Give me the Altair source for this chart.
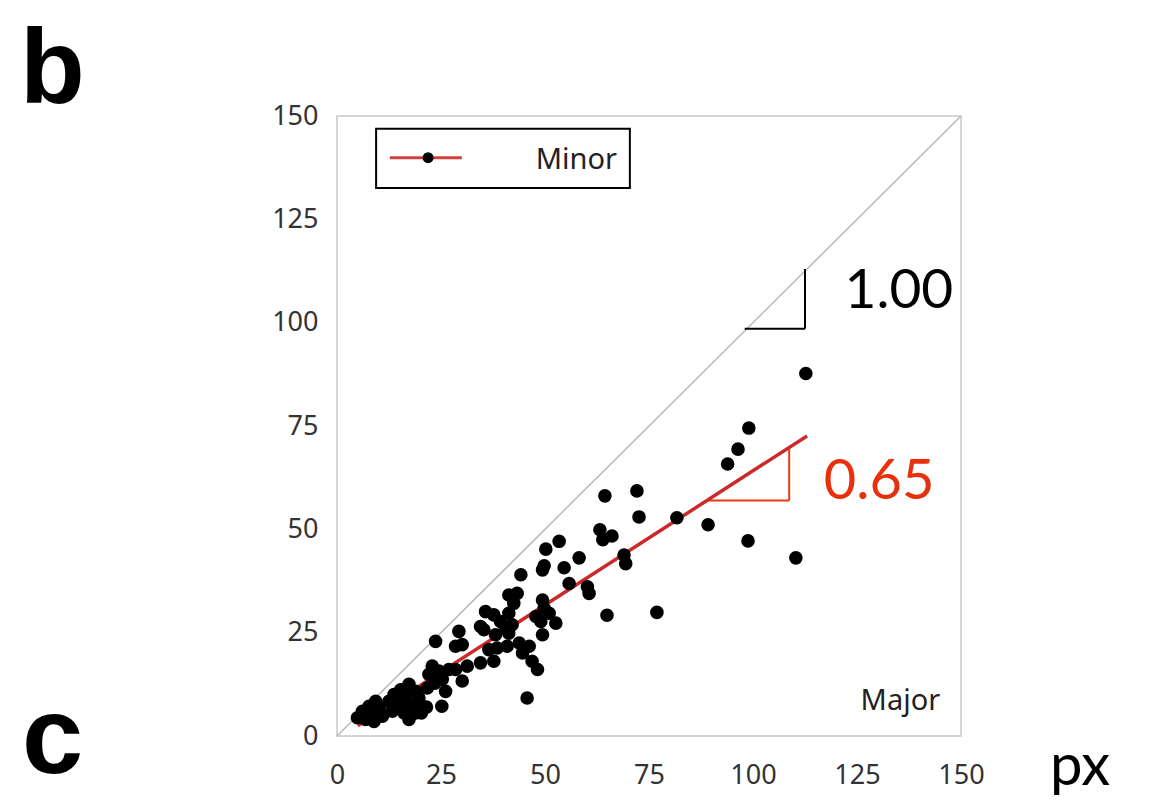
import altair as alt
import pandas as pd

# ---- data ----
major = [112.7, 99.0, 96.4, 93.9, 98.8, 110.3, 89.2, 81.7, 76.9, 72.1, 72.6, 69.0, 69.4,
         64.4, 63.2, 66.1, 63.9, 64.9, 60.2, 60.6, 58.2, 53.4, 50.2, 54.6, 49.8, 49.4,
         55.8, 44.2, 41.3, 43.3, 42.5, 49.4, 49.8, 51.0, 52.6, 49.0, 47.8, 49.4, 35.7,
         37.7, 41.3, 39.3, 40.5, 42.1, 41.3, 34.5, 35.3, 29.3, 23.7, 28.5, 30.1, 38.1,
         36.5, 38.5, 40.9, 43.8, 46.2, 44.6, 46.9, 48.2, 34.5, 37.7, 31.3, 28.5, 26.9,
         22.9, 24.5, 22.1, 25.3, 30.1, 45.7, 25.2, 23.5, 26.1,
         17.3, 15.3, 18.9, 13.7, 16.5, 19.7, 12.5, 14.9, 17.7, 20.5, 13.3, 16.1, 18.9,
         17.3, 21.7, 21.5, 20.3,
         9.3, 7.7, 10.1, 6.1, 8.5, 4.9, 6.9, 8.9, 10.9]
minor = [87.7, 74.5, 69.4, 65.8, 47.2, 43.1, 51.1, 52.8, 29.9, 59.3, 53.0, 43.8, 41.7,
         58.1, 49.9, 48.4, 47.5, 29.2, 36.1, 34.5, 43.1, 47.1, 45.2, 40.7, 41.2, 40.2,
         36.9, 39.0, 34.1, 34.5, 32.1, 32.9, 30.9, 29.7, 27.3, 27.7, 28.9, 24.5, 30.1,
         29.3, 29.7, 27.7, 26.1, 26.9, 24.9, 26.5, 25.7, 25.3, 22.9, 21.7, 22.1, 24.5,
         20.9, 21.3, 21.7, 22.5, 21.7, 20.1, 18.1, 16.1, 17.7, 18.1, 16.9, 16.1, 16.1,
         16.9, 15.7, 14.9, 13.7, 13.3, 9.2, 7.2, 12.8, 10.8,
         12.5, 11.2, 10.8, 10.0, 9.6, 9.2, 8.4, 7.6, 7.6, 7.2, 6.0, 5.6, 5.6,
         4.0, 11.6, 7.0, 5.6,
         8.4, 7.2, 6.8, 6.0, 5.6, 4.4, 4.0, 3.5, 4.8]

fit_x = [5, 113]
fit_y = [2.5, 72.6]
diag_xy = [0, 150]
tick_values = [0, 25, 50, 75, 100, 125, 150]

red_tri_h = [88.7, 108.7, 57.0]      # x1, x2, y
red_tri_v = [108.7, 57.0, 70.0]      # x, y1, y2
blk_tri_h = [98.0, 112.5, 98.5]
blk_tri_v = [112.5, 98.5, 113.0]

legend_box = [9.4, 70.4, 132.6, 146.9]
legend_line = [12.7, 30.0, 139.9]
legend_dot = [21.9, 139.9]

texts = pd.DataFrame({
    "x": [67.3, 122.0, 117.0, 145.0, 171.4, -76.2, -75.7],
    "y": [137.2, 103.5, 57.3, 6.3, -11.9, 153.2, -9.0],
    "t": ["Minor", "1.00", "0.65", "Major", "px", "b", "c"],
})

pts = pd.DataFrame({"x": major, "y": minor})

xs = alt.Scale(domain=[0, 150], nice=False, zero=False)
ys = alt.Scale(domain=[0, 150], nice=False, zero=False)

x_axis = alt.Axis(values=tick_values, ticks=False, domain=False, grid=False, title=None,
                  labelFont="Noto Sans", labelFontSize=27, labelColor="#333333",
                  labelPadding=26, labelFlush=False, labelOverlap=False)
y_axis = alt.Axis(values=tick_values, ticks=False, domain=False, grid=False, title=None,
                  labelFont="Noto Sans", labelFontSize=27, labelColor="#333333",
                  labelPadding=19, labelFlush=False, labelOverlap=False)

X = lambda f: alt.X(f, type="quantitative", scale=xs, axis=x_axis)
Y = lambda f: alt.Y(f, type="quantitative", scale=ys, axis=y_axis)

diag = alt.Chart(pd.DataFrame({"x": diag_xy, "y": diag_xy})).mark_line(
    color="#b8b8b8", strokeWidth=1.5).encode(x=X("x"), y=Y("y"))

fit = alt.Chart(pd.DataFrame({"x": fit_x, "y": fit_y})).mark_line(
    color="#cc2a2a", strokeWidth=3.5).encode(x=X("x"), y=Y("y"))

points = alt.Chart(pts).mark_circle(size=185, color="black", opacity=1).encode(
    x=X("x"), y=Y("y"))

def hseg(v, color):
    return alt.Chart(pd.DataFrame({"x": [v[0]], "x2": [v[1]], "y": [v[2]]})).mark_rule(
        color=color, strokeWidth=2).encode(x=X("x"), x2="x2", y=Y("y"))

def vseg(v, color):
    return alt.Chart(pd.DataFrame({"x": [v[0]], "y": [v[1]], "y2": [v[2]]})).mark_rule(
        color=color, strokeWidth=2).encode(x=X("x"), y=Y("y"), y2="y2")

tri = [hseg(red_tri_h, "#e8380d"), vseg(red_tri_v, "#e8380d"),
       hseg(blk_tri_h, "black"), vseg(blk_tri_v, "black")]

lbox = alt.Chart(pd.DataFrame({"x": [legend_box[0]], "x2": [legend_box[1]],
                               "y": [legend_box[2]], "y2": [legend_box[3]]})).mark_rect(
    fill="white", stroke="black", strokeWidth=2).encode(x=X("x"), x2="x2", y=Y("y"), y2="y2")
lline = alt.Chart(pd.DataFrame({"x": [legend_line[0]], "x2": [legend_line[1]],
                                "y": [legend_line[2]]})).mark_rule(
    color="#d04040", strokeWidth=3).encode(x=X("x"), x2="x2", y=Y("y"))
ldot = alt.Chart(pd.DataFrame({"x": [legend_dot[0]], "y": [legend_dot[1]]})).mark_circle(
    size=120, color="black", opacity=1).encode(x=X("x"), y=Y("y"))

def txt(i, **kw):
    return alt.Chart(texts.iloc[[i]]).mark_text(baseline="alphabetic", **kw).encode(
        x=X("x"), y=Y("y"), text="t:N")

labels = [
    txt(0, align="right", font="Noto Sans", fontSize=29, color="#222222"),
    txt(1, align="left", font="Lato", fontSize=55, color="black"),
    txt(2, align="left", font="Lato", fontSize=56, color="#e8300c"),
    txt(3, align="right", font="Noto Sans", fontSize=29, color="#222222"),
    txt(4, align="left", font="Lato", fontSize=58, color="black"),
    txt(5, align="left", font="Liberation Sans", fontSize=106, fontWeight="bold", color="black"),
    txt(6, align="left", font="Liberation Sans", fontSize=110, fontWeight="bold", color="black"),
]

chart = alt.layer(diag, *tri, fit, points, lbox, lline, ldot, *labels).properties(
    width=624, height=620,
    autosize=alt.AutoSizeParams(type="none"),
    padding={"left": 329, "top": 108, "right": 170, "bottom": 60},
    background="white",
).configure_view(stroke="#c8c8c8", strokeWidth=1.5)

chart.save("out.html", embed_options={"renderer": "svg", "actions": False})
